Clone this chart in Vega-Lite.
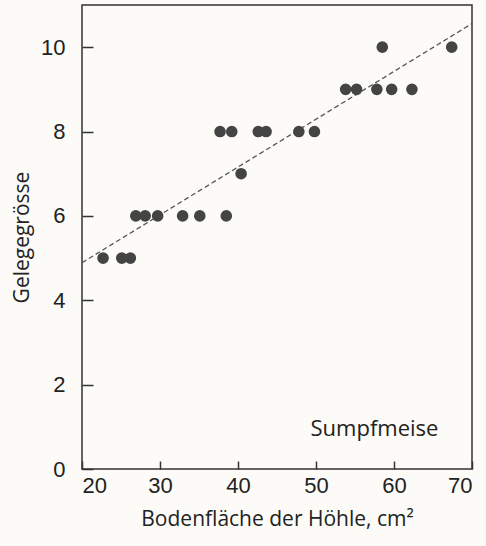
{
  "$schema": "https://vega.github.io/schema/vega-lite/v6.json",
  "width": 390,
  "height": 464,
  "autosize": "none",
  "padding": {"left": 82, "top": 5, "right": 14, "bottom": 77},
  "background": "#fcfbf7",
  "config": {
    "view": {"stroke": "#333333", "strokeWidth": 1.5}
  },
  "datasets": {
    "nests": [
      {"area": 22.7, "clutch": 5},
      {"area": 25.1, "clutch": 5},
      {"area": 26.2, "clutch": 5},
      {"area": 26.9, "clutch": 6},
      {"area": 28.1, "clutch": 6},
      {"area": 29.7, "clutch": 6},
      {"area": 32.9, "clutch": 6},
      {"area": 35.1, "clutch": 6},
      {"area": 38.5, "clutch": 6},
      {"area": 40.4, "clutch": 7},
      {"area": 37.7, "clutch": 8},
      {"area": 39.2, "clutch": 8},
      {"area": 42.6, "clutch": 8},
      {"area": 43.6, "clutch": 8},
      {"area": 47.8, "clutch": 8},
      {"area": 49.8, "clutch": 8},
      {"area": 53.8, "clutch": 9},
      {"area": 55.2, "clutch": 9},
      {"area": 57.8, "clutch": 9},
      {"area": 59.7, "clutch": 9},
      {"area": 62.3, "clutch": 9},
      {"area": 58.5, "clutch": 10},
      {"area": 67.4, "clutch": 10}
    ],
    "trend": [
      {"area": 20, "clutch": 4.89},
      {"area": 70, "clutch": 10.56}
    ],
    "annot": [
      {"area": 65.7, "clutch": 0.94, "name": "Sumpfmeise"}
    ]
  },
  "encoding": {
    "x": {"field": "area", "type": "quantitative", "scale": {"domain": [20, 70], "nice": false, "zero": false},
      "axis": {"values": [20, 30, 40, 50, 60, 70], "title": "Bodenfläche der Höhle, cm²",
        "domain": false, "grid": false,
        "ticks": true, "tickColor": "#333333", "tickWidth": 1.5, "offset": -8, "tickSize": 8,
        "labelPadding": 6, "labelFont": "Liberation Sans", "labelFontSize": 22, "labelColor": "#222222",
        "titlePadding": 12, "titleFont": "Open Sans", "titleFontSize": 21, "titleFontWeight": "normal", "titleColor": "#222222"}},
    "y": {"field": "clutch", "type": "quantitative", "scale": {"domain": [0, 11], "nice": false},
      "axis": {"values": [0, 2, 4, 6, 8, 10], "title": "Gelegegrösse",
        "domain": false, "grid": false,
        "ticks": true, "tickColor": "#333333", "tickWidth": 1.5, "offset": -11, "tickSize": 11,
        "labelPadding": 17, "labelFont": "Liberation Sans", "labelFontSize": 22, "labelColor": "#222222",
        "titlePadding": 8, "titleFont": "Open Sans", "titleFontSize": 21, "titleFontWeight": "normal", "titleColor": "#222222"}}
  },
  "layer": [
    {
      "data": {"name": "trend"},
      "mark": {"type": "line", "stroke": "#555555", "strokeWidth": 1.3, "strokeDash": [5, 3]}
    },
    {
      "data": {"name": "nests"},
      "mark": {"type": "circle", "size": 135, "color": "#444444", "opacity": 1}
    },
    {
      "data": {"name": "annot"},
      "mark": {"type": "text", "align": "right", "baseline": "middle", "font": "Open Sans", "fontSize": 22, "color": "#222222"},
      "encoding": {
        "text": {"field": "name", "type": "nominal"}
      }
    }
  ]
}
